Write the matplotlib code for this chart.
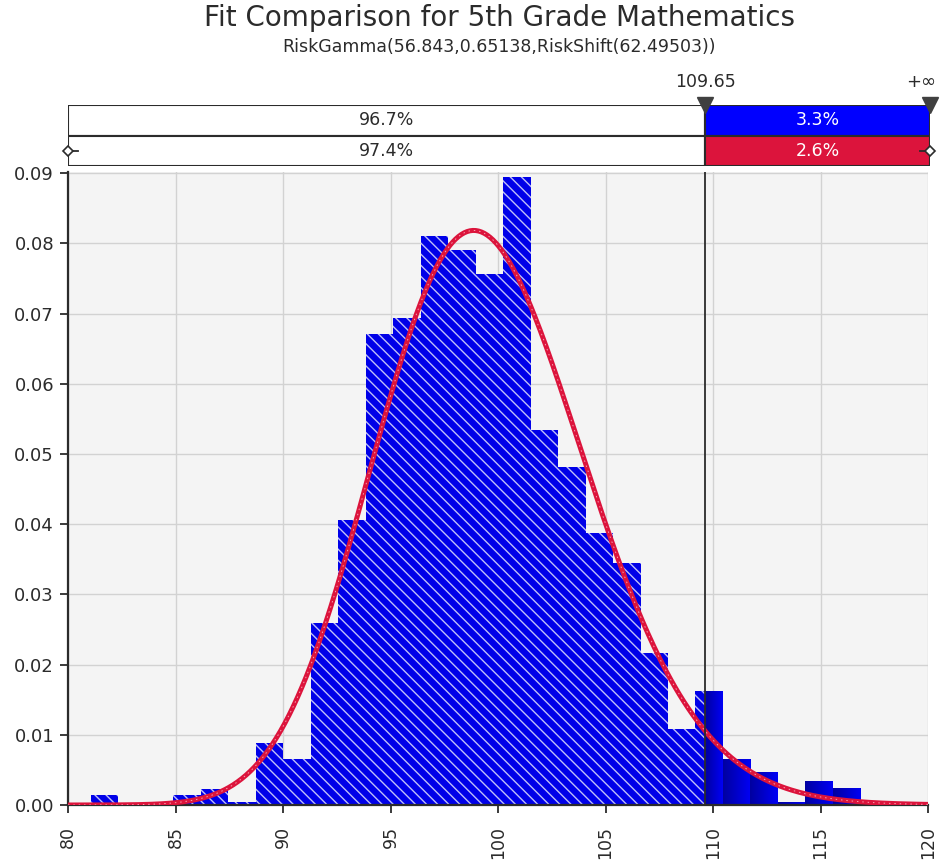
import math
import numpy as np
import matplotlib
matplotlib.use("Agg")
import matplotlib.pyplot as plt
from matplotlib.colors import LinearSegmentedColormap

# histogram (density per bin)
bin_start = 81.07
bin_width = 1.278
densities = [0.0014, 0.0, 0.0, 0.0014, 0.0023, 0.0004, 0.0089, 0.0065,
             0.0259, 0.0406, 0.0671, 0.0694, 0.0810, 0.0790, 0.0756, 0.0895,
             0.0534, 0.0482, 0.0387, 0.0344, 0.0216, 0.0108, 0.0162, 0.0065,
             0.0046, 0.0003, 0.0034, 0.0023]

# fitted distribution
gamma_shape = 56.843
gamma_scale = 0.65138
gamma_shift = 62.49503

cut_value = 109.65
pct_input = ["96.7%", "3.3%"]
pct_fit = ["97.4%", "2.6%"]

title = "Fit Comparison for 5th Grade Mathematics"
subtitle = "RiskGamma(56.843,0.65138,RiskShift(62.49503))"

x_min, x_max = 80, 120
y_max = 0.09

plt.rcParams["font.family"] = ["DejaVu Sans"]
plt.rcParams["hatch.color"] = "#C0C0F8"
plt.rcParams["hatch.linewidth"] = 1.0

BLUE = "#0000E8"
RED = "#DC143C"
DARK = "#2B2B2B"


def gamma_pdf(x):
    z = x - gamma_shift
    logp = ((gamma_shape - 1) * np.log(z) - z / gamma_scale
            - math.lgamma(gamma_shape) - gamma_shape * math.log(gamma_scale))
    return np.exp(logp)


fig = plt.figure(figsize=(9.41, 8.61), dpi=100)
ax = fig.add_axes([68 / 941, 56 / 861, 860 / 941, 633.3 / 861])
ax.set_facecolor("#F4F4F4")

edges = bin_start + bin_width * np.arange(len(densities) + 1)
solid_cmap = LinearSegmentedColormap.from_list("solid", ["#0000A0", "#0000F5"])

for i, h in enumerate(densities):
    left, right = edges[i], edges[i + 1]
    if h <= 0:
        continue
    if left < cut_value:
        r = min(right, cut_value)
        ax.bar(left, h, width=r - left, align="edge", color=BLUE,
               edgecolor="#C0C0F8", linewidth=0, hatch="\\\\\\", zorder=2)
    if right > cut_value:
        l = max(left, cut_value)
        grad = np.linspace(0, 1, 64).reshape(1, -1)
        ax.imshow(grad, cmap=solid_cmap, extent=[l, right, 0, h],
                  aspect="auto", origin="lower", zorder=2, interpolation="bilinear")

xs = np.linspace(x_min, x_max, 600)
ax.plot(xs, gamma_pdf(xs), color=RED, lw=3.6, zorder=4, solid_capstyle="butt")
ax.plot(xs, gamma_pdf(xs), color="#F7A0B0", lw=0.7, ls=(0, (1.5, 4)), zorder=5)

ax.axvline(cut_value, color=DARK, lw=1.3, zorder=6)

ax.set_xlim(x_min, x_max)
ax.set_ylim(0, y_max + 0.0002)
ax.set_xticks(np.arange(x_min, x_max + 1, 5))
ax.set_yticks(np.arange(0, 0.0901, 0.01))
ax.set_yticklabels([f"{v:.2f}" for v in np.arange(0, 0.0901, 0.01)])
ax.tick_params(axis="x", labelrotation=90, labelsize=12.5, length=6, width=1.3,
               color=DARK, labelcolor=DARK, pad=9)
ax.tick_params(axis="y", labelsize=13, length=6, width=1.3, color=DARK,
               labelcolor=DARK, pad=4)
ax.grid(True, color="#D2D2D2", lw=1)
ax.set_axisbelow(True)
for side in ["top", "right"]:
    ax.spines[side].set_visible(False)
for side in ["left", "bottom"]:
    ax.spines[side].set_color(DARK)
    ax.spines[side].set_linewidth(1.6)

# probability bars above the plot
ax_top = fig.add_axes([68 / 941, (861 - 166) / 861, 862 / 941, 61 / 861])
top_right = x_min + 862 / 21.5
ax_top.set_xlim(x_min, top_right)
ax_top.set_ylim(0, 2)
ax_top.axis("off")
ax_top.barh(1.5, cut_value - x_min, left=x_min, height=1, align="center",
            color="white", edgecolor=DARK, lw=1.5)
ax_top.barh(1.5, top_right - cut_value, left=cut_value, height=1, align="center",
            color="#0000FF", edgecolor=DARK, lw=1.5)
ax_top.barh(0.5, cut_value - x_min, left=x_min, height=1, align="center",
            color="white", edgecolor=DARK, lw=1.5)
ax_top.barh(0.5, top_right - cut_value, left=cut_value, height=1, align="center",
            color=RED, edgecolor=DARK, lw=1.5)

mid_left = (x_min + cut_value) / 2
mid_right = (cut_value + top_right) / 2
ax_top.text(mid_left, 1.5, pct_input[0], ha="center", va="center", fontsize=12.5, color=DARK)
ax_top.text(mid_right, 1.5, pct_input[1], ha="center", va="center", fontsize=12.5, color="white")
ax_top.text(mid_left, 0.5, pct_fit[0], ha="center", va="center", fontsize=12.5, color=DARK)
ax_top.text(mid_right, 0.5, pct_fit[1], ha="center", va="center", fontsize=12.5, color="white")

for xv in [x_min, top_right]:
    ax_top.plot([xv, xv + (0.45 if xv == x_min else -0.45)], [0.5, 0.5], color=DARK,
                lw=1.3, clip_on=False)
    ax_top.plot(xv, 0.5, marker="D", ms=5.5, mfc="white", mec=DARK, mew=1.2, clip_on=False)
ax_top.plot([cut_value, top_right], [2.0, 2.0], ls="none", marker="v", ms=11,
            color="#404040", clip_on=False)
ax_top.text(cut_value, 2.75, f"{cut_value:.2f}", ha="center", va="center",
            fontsize=12.5, color=DARK, clip_on=False)
ax_top.text(top_right + 0.3, 2.75, "+∞", ha="right", va="center",
            fontsize=13, color=DARK, clip_on=False)

fig.text(499 / 941, 1 - 18 / 861, title, ha="center", va="center", fontsize=20, color=DARK)
fig.text(499 / 941, 1 - 47 / 861, subtitle, ha="center", va="center", fontsize=12.5, color=DARK)

fig.savefig("out.png", dpi=100)
